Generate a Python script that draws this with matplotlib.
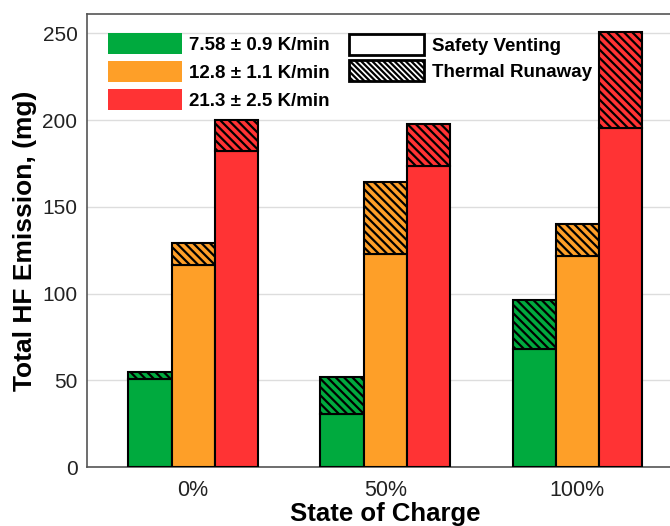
import numpy as np
import matplotlib
matplotlib.use("Agg")
import matplotlib.pyplot as plt
from matplotlib.patches import Patch

# ---------------------------------------------------------------------------
# Data (mg of HF)
# ---------------------------------------------------------------------------
SOC_LABELS = ["0%", "50%", "100%"]
RATE_LABELS = ["7.58 \u00b1 0.9 K/min", "12.8 \u00b1 1.1 K/min", "21.3 \u00b1 2.5 K/min"]
COLORS = ["#00AA3E", "#FE9F28", "#FF3334"]

# Safety venting portion, one list per heating rate (0%, 50%, 100% SOC)
SV_SLOW = [50.5, 30.5, 68.0]
SV_MID = [116.5, 123.0, 121.5]
SV_FAST = [182.0, 173.5, 195.5]

# Thermal runaway portion stacked on top
TR_SLOW = [4.5, 21.5, 28.5]
TR_MID = [12.5, 41.5, 18.5]
TR_FAST = [18.0, 24.0, 55.0]

SAFETY = [SV_SLOW, SV_MID, SV_FAST]
RUNAWAY = [TR_SLOW, TR_MID, TR_FAST]

plt.rcParams["font.family"] = ["Liberation Sans", "DejaVu Sans"]
plt.rcParams["hatch.linewidth"] = 1.6
plt.rcParams["hatch.color"] = "black"

fig = plt.figure(figsize=(6.7, 5.26), dpi=100)
ax = fig.add_axes([0.130, 0.112, 0.890, 0.861])

x = np.arange(len(SOC_LABELS))
width = 0.225

for i, (sv, tr, col) in enumerate(zip(SAFETY, RUNAWAY, COLORS)):
    pos = x + (i - 1) * width
    ax.bar(pos, sv, width, color=col, edgecolor="black", linewidth=1.5, zorder=3)
    ax.bar(pos, tr, width, bottom=sv, color=col, edgecolor="black",
           linewidth=1.5, hatch="\\\\\\\\", zorder=3)

ax.set_xlim(-0.552, 2.552)
ax.set_ylim(0, 261)
ax.set_yticks([0, 50, 100, 150, 200, 250])
ax.set_xticks(x)
ax.set_xticklabels(SOC_LABELS)
ax.tick_params(axis="y", length=0, pad=7, labelsize=15, colors="#222222")
ax.tick_params(axis="x", length=0, pad=9, labelsize=15.5, colors="#222222")
ax.grid(axis="y", color="#dddddd", linewidth=1.0, zorder=0)
ax.set_axisbelow(True)

for side in ["left", "bottom", "top"]:
    ax.spines[side].set_color("#555555")
    ax.spines[side].set_linewidth(1.2)

ax.set_ylabel("Total HF Emission, (mg)", fontsize=19, fontweight="bold", labelpad=4)
ax.set_xlabel("State of Charge", fontsize=18.5, fontweight="bold", labelpad=1)

# Legend 1: heating rates
rate_handles = [Patch(facecolor=c, edgecolor="none") for c in COLORS]
leg1 = ax.legend(rate_handles, RATE_LABELS, loc="upper left",
                 bbox_to_anchor=(0.035, 0.958), frameon=False,
                 borderpad=0, borderaxespad=0,
                 handlelength=3.95, handleheight=1.36, handletextpad=0.35,
                 labelspacing=0.36, prop={"weight": "bold", "size": 13.5})
ax.add_artist(leg1)

# Legend 2: event type
type_handles = [Patch(facecolor="white", edgecolor="black", linewidth=2),
                Patch(facecolor="white", edgecolor="black", linewidth=2,
                      hatch="\\\\\\\\\\\\")]
ax.legend(type_handles, ["Safety Venting", "Thermal Runaway"], loc="upper left",
          bbox_to_anchor=(0.44, 0.956), frameon=False,
          borderpad=0, borderaxespad=0,
          handlelength=3.95, handleheight=1.34, handletextpad=0.45,
          labelspacing=0.26, prop={"weight": "bold", "size": 13.5})

fig.savefig("out.png", dpi=100)
